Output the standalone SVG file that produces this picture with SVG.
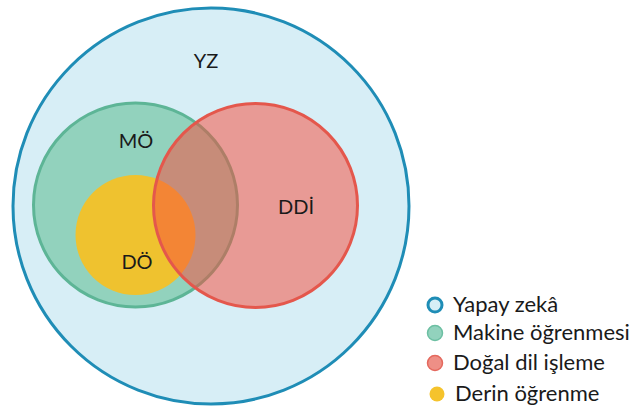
<svg xmlns="http://www.w3.org/2000/svg" width="641" height="409" viewBox="0 0 641 409">
  <style>
    text { font-family: Lato, "Open Sans", "Liberation Sans", sans-serif; fill: #1a1a1a; }
    .lbl { font-size: 20px; text-anchor: middle; }
    .leg { font-size: 22px; }
  </style>
  <rect width="641" height="409" fill="#ffffff"/>

  <!-- Yapay zeka (outer set) -->
  <g id="yz">
    <circle cx="211" cy="206" r="198" fill="#d7eef6" stroke="#1f8db6" stroke-width="3"/>
    <text class="lbl" x="206" y="68">YZ</text>
  </g>

  <!-- Makine ogrenmesi -->
  <g id="mo">
    <circle cx="135.5" cy="205" r="102" fill="#92d2bd" stroke="#5db596" stroke-width="3"/>
    <text class="lbl" x="136" y="148">MÖ</text>
  </g>

  <!-- Derin ogrenme (inside MO) -->
  <g id="do">
    <circle cx="135.5" cy="235" r="60" fill="#efc22f"/>
    <text class="lbl" x="137" y="269">DÖ</text>
  </g>

  <!-- Dogal dil isleme (translucent, overlaps MO and DO) -->
  <g id="ddi">
    <circle cx="255.5" cy="205.5" r="102" fill="#f84d3c" fill-opacity="0.52" stroke="#e4574c" stroke-width="3"/>
    <text class="lbl" x="296" y="214">DDİ</text>
  </g>

  <!-- Legend -->
  <g id="legend">
    <circle cx="435" cy="305" r="7" fill="#d7eef6" stroke="#1f8db6" stroke-width="3"/>
    <text class="leg" x="453" y="312">Yapay zekâ</text>
    <circle cx="435" cy="333" r="7.5" fill="#92d2bd" stroke="#6cbfa2" stroke-width="1.5"/>
    <text class="leg" x="453" y="340">Makine öğrenmesi</text>
    <circle cx="435" cy="363" r="7.5" fill="#ee8f86" stroke="#e4685d" stroke-width="1.5"/>
    <text class="leg" x="453" y="370">Doğal dil işleme</text>
    <circle cx="437" cy="394" r="7.5" fill="#f5c32c"/>
    <text class="leg" x="455" y="401">Derin öğrenme</text>
  </g>
</svg>
